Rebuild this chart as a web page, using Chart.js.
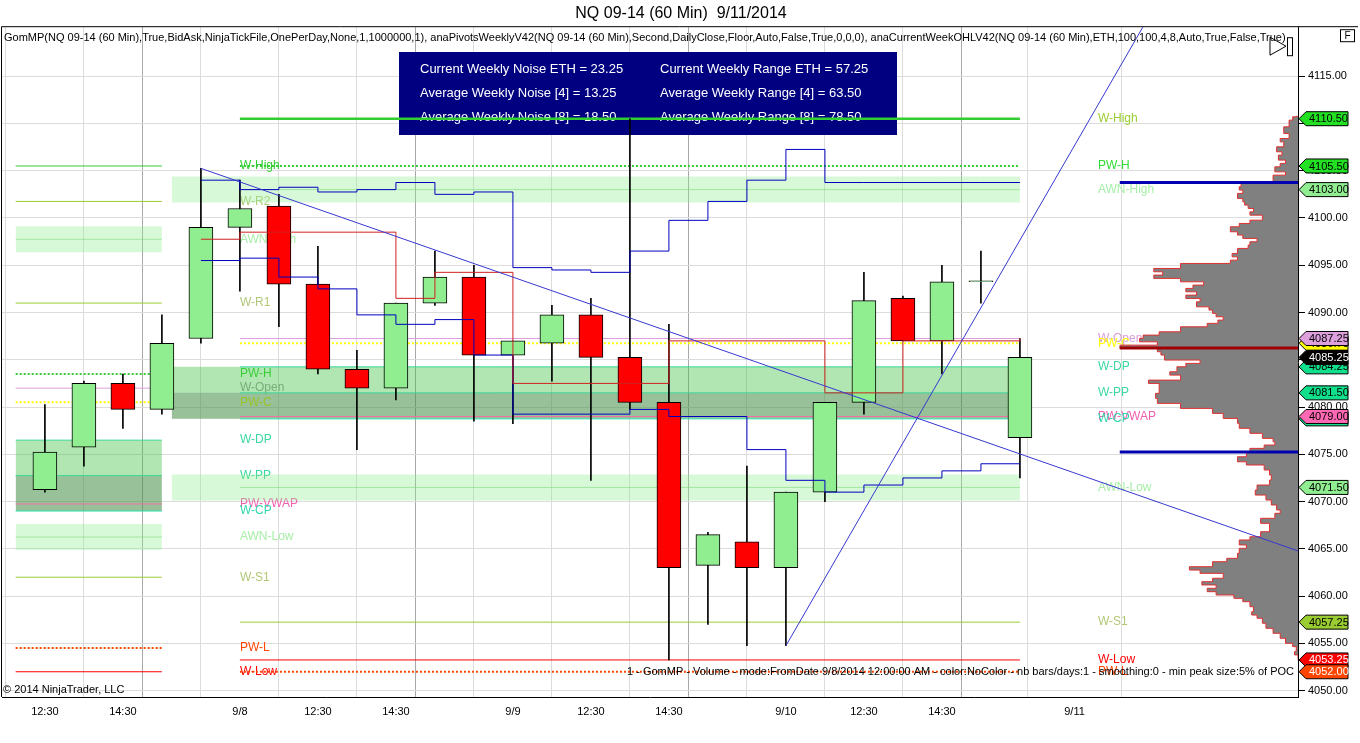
<!DOCTYPE html>
<html>
<head>
<meta charset="utf-8">
<title>NQ 09-14 (60 Min) 9/11/2014</title>
<script src="https://cdn.jsdelivr.net/npm/chart.js@4.4.1/dist/chart.umd.min.js"></script>
<style>
  html, body { margin: 0; padding: 0; background: #fff; }
  #wrap { width: 1360px; height: 743px; }
</style>
</head>
<body>
<div id="wrap"><canvas id="nqChart" width="1360" height="743"></canvas></div>
<script>
const FONT = "'Liberation Sans', Arial, sans-serif";

// 60 min bars, index 0 = 9/5 12:30 ... index 25 = 9/10 last bar
const opens  = [4071.25, 4075.75, 4082.5, 4079.75, 4087.25, 4099.0, 4101.25, 4093.0, 4084.0, 4082.0, 4091.0, 4093.75, 4085.5,
                4086.75, 4089.75, 4085.25, 4080.5, 4063.25, 4065.75, 4063.0, 4071.0, 4080.5, 4091.5, 4087.0, 4093.25, 4076.75];
const highs  = [4080.25, 4082.75, 4083.5, 4089.75, 4105.25, 4104.0, 4102.5, 4097.0, 4086.0, 4091.0, 4096.5, 4095.0, 4087.0,
                4090.75, 4091.5, 4110.5, 4088.75, 4066.75, 4073.75, 4071.0, 4080.5, 4094.25, 4091.75, 4095.0, 4096.5, 4087.25];
const lows   = [4071.0, 4073.75, 4077.75, 4079.25, 4086.75, 4092.25, 4088.5, 4083.5, 4075.5, 4080.75, 4090.75, 4078.5, 4078.25,
                4082.75, 4072.25, 4079.75, 4053.25, 4057.0, 4054.75, 4054.75, 4070.0, 4079.25, 4087.0, 4083.5, 4091.0, 4072.5];
const closes = [4075.25, 4082.5, 4079.75, 4086.75, 4099.0, 4101.0, 4093.0, 4084.0, 4082.0, 4091.0, 4093.75, 4085.5, 4087.0,
                4089.75, 4085.25, 4080.5, 4063.0, 4066.5, 4063.0, 4071.0, 4080.5, 4091.25, 4087.0, 4093.25, 4093.25, 4085.25];

// x axis ticks (bar index) - empty label = session break line
const xTickPos    = [0, 2, 3, 5, 7, 9, 10, 12, 14, 16, 17, 19, 21, 23, 24, 26.4];
const xTickLabels = ['12:30', '14:30', '', '9/8', '12:30', '14:30', '', '9/9', '12:30', '14:30', '', '9/10', '12:30', '14:30', '', '9/11'];
const yTicks = [4050, 4055, 4060, 4065, 4070, 4075, 4080, 4085, 4090, 4095, 4100, 4105, 4110, 4115];

// weekly pivot levels
const levelNames     = ['W-High', 'W-R2', 'AWN-High', 'W-R1', 'PW-H', 'W-Open', 'PW-C', 'W-DP', 'W-PP', 'PW-VWAP', 'W-CP', 'AWN-Low', 'W-S1', 'PW-L', 'W-Low'];
const prevWeekLevels = [4105.5, 4101.75, 4097.75, 4091.0, 4083.5, 4082.0, 4080.5, 4076.5, 4072.75, 4069.75, 4069.0, 4066.25, 4062.0, 4054.5, 4052.0];
const currWeekLevels = [4110.5, null, 4103.0, null, 4105.5, 4087.25, 4086.75, 4084.25, 4081.5, 4079.0, 4078.75, 4071.5, 4057.25, 4052.0, 4053.25];
const awnHalfBand = 1.375;

// anaCurrentWeekOHL step lines, bar 4 .. bar 25
const stepStart  = 4;
const noiseUpper = [4104.0, 4103.0, 4103.25, 4102.75, 4103.0, 4103.75, 4102.5, 4102.75, 4094.75, 4094.5, 4094.25,
                    4096.5, 4099.75, 4101.75, 4104.0, 4107.25, 4103.75, 4103.75, 4103.75, 4103.75, 4103.75, 4103.75];
const noiseLower = [4095.5, 4095.75, 4093.75, 4092.5, 4089.75, 4088.75, 4089.25, 4085.5, 4079.25, 4079.25, 4079.25,
                    4079.75, 4079.0, 4079.0, 4075.5, 4072.25, 4071.0, 4071.75, 4072.5, 4073.25, 4074.0, 4074.0];
const weekMid    = [4097.75, 4098.5, 4098.5, 4098.5, 4098.5, 4091.5, 4094.25, 4094.25, 4082.5, 4082.5, 4082.5,
                    4082.5, 4087.0, 4087.0, 4087.0, 4087.0, 4081.5, 4081.5, 4087.0, 4087.0, 4087.0, 4087.25];

// drawn trend lines
const trendDown = [{ x: 4, y: 4105.25 }, { x: 32.5, y: 4064.25 }];
const trendUp   = [{ x: 19, y: 4054.75 }, { x: 28.3, y: 4121.25 }];

// GomMP volume profile (volume as % of POC)
const profilePrices = [4110.75, 4110.7, 4110.35, 4109.64, 4108.94, 4108.41, 4108.05, 4107.53, 4107.0, 4106.65, 4106.12, 4105.77,
  4105.41, 4104.88, 4104.53, 4104.0, 4103.65, 4103.3, 4102.95, 4102.6, 4102.07, 4101.71, 4101.36, 4101.01, 4100.65, 4100.3,
  4099.77, 4099.42, 4099.07, 4098.54, 4098.19, 4097.84, 4097.48, 4097.13, 4096.78, 4096.25, 4095.89, 4095.54, 4095.19,
  4094.66, 4094.31, 4093.96, 4093.61, 4093.25, 4092.9, 4092.55, 4092.19, 4091.84, 4091.49, 4091.13, 4090.6, 4090.26,
  4089.91, 4089.55, 4089.2, 4088.85, 4088.49, 4087.96, 4087.61, 4087.26, 4086.9, 4086.55, 4086.2, 4085.85, 4085.5,
  4084.97, 4084.62, 4084.26, 4083.73, 4083.38, 4082.85, 4082.5, 4081.98, 4081.45, 4080.92, 4080.39, 4079.86, 4079.33,
  4078.8, 4078.28, 4077.75, 4077.22, 4076.69, 4076.33, 4075.98, 4075.63, 4075.27, 4074.74, 4074.21, 4073.87, 4073.34,
  4072.81, 4072.28, 4071.75, 4071.22, 4070.69, 4070.17, 4069.64, 4069.11, 4068.76, 4068.23, 4067.7, 4067.17, 4066.81,
  4066.28, 4065.94, 4065.41, 4065.06, 4064.53, 4064.0, 4063.64, 4063.11, 4062.76, 4062.41, 4061.89, 4061.53, 4061.18,
  4060.83, 4060.47, 4060.12, 4059.77, 4059.41, 4058.88, 4058.35, 4058.0, 4057.66, 4057.13, 4056.6, 4056.07, 4055.54,
  4055.01, 4054.66, 4054.13, 4053.78, 4053.43, 4053.25];
const profileVolume = [0, 1, 3, 5, 8, 5, 10, 8, 12, 9, 11, 7,
  10, 13, 7, 14, 14, 32, 33, 31, 34, 31, 30, 28, 25, 27,
  20, 27, 33, 38, 34, 31, 23, 27, 28, 34, 37, 34, 38,
  66, 81, 76, 81, 66, 53, 59, 63, 57, 63, 55, 57, 50,
  48, 46, 42, 45, 51, 66, 78, 87, 89, 79, 100, 79, 77,
  75, 55, 63, 68, 72, 66, 84, 78, 78, 80, 79, 66, 48,
  42, 34, 33, 27, 20, 14, 13, 19, 27, 29, 34, 29, 19,
  16, 15, 16, 23, 24, 18, 15, 12, 10, 13, 21, 16, 16,
  21, 27, 33, 29, 33, 34, 40, 48, 61, 55, 42, 48, 54,
  46, 51, 46, 36, 31, 27, 25, 26, 23, 20, 18, 14, 10,
  7, 3, 1, 2, 0, 0];
const profilePOC = 4086.25;
const profileVAH = 4103.75;
const profileVAL = 4075.25;

const noiseStats = ['Current Weekly Noise ETH = 23.25', 'Average Weekly Noise [4] = 13.25', 'Average Weekly Noise [8] = 18.50'];
const rangeStats = ['Current Weekly Range ETH = 57.25', 'Average Weekly Range [4] = 63.50', 'Average Weekly Range [8] = 78.50'];

// styles per level
const levelStyle = {
  'W-High':   { line: '#32cd32', text: '#32cd32', textR: '#9acd32', flag: '#22e022' },
  'W-R2':     { line: '#9acd32', text: '#b2c878' },
  'AWN-High': { line: 'rgba(120,220,120,0.6)', text: '#a8eea8', flag: '#90ee90' },
  'W-R1':     { line: '#9acd32', text: '#b2c878' },
  'PW-H':     { line: '#32cd32', text: '#33dd33', flag: '#22e022', dash: [2, 2], width: 2 },
  'W-Open':   { line: '#dda0dd', text: '#a0a0a0', textR: '#d8a0d8', flag: '#dda0dd' },
  'PW-C':     { line: '#ffff00', text: '#ffff00', flag: '#ffff00', dash: [2, 2], width: 2 },
  'W-DP':     { line: '#3cd89a', text: '#3cd8a0', flag: '#10e08c' },
  'W-PP':     { line: '#3cd89a', text: '#3cd8a0', flag: '#10e08c' },
  'PW-VWAP':  { line: '#f070a8', text: '#f060b0', flag: '#ff69b4' },
  'W-CP':     { line: '#30e0b0', text: '#30d8b0', flag: '#10e08c' },
  'AWN-Low':  { line: 'rgba(120,220,120,0.6)', text: '#a8eea8', flag: '#90ee90' },
  'W-S1':     { line: '#9acd32', text: '#b2c878', flag: '#9acd32' },
  'PW-L':     { line: '#ff4500', text: '#ff4500', flag: '#ff4500', fg: '#fff', dash: [2, 2], width: 2 },
  'W-Low':    { line: '#ff0000', text: '#ff0000', flag: '#ff0000', fg: '#fff' }
};
const flagOrder = ['W-High', 'PW-H', 'AWN-High', 'PW-C', 'W-Open', 'W-CP', 'PW-VWAP', 'W-DP', 'W-PP', 'AWN-Low', 'W-S1', 'W-Low', 'PW-L'];

const prevSpan = [-0.75, 3];
const currSpan = [5, 25];
const currZoneSpan = [3.25, 25];
const profileLineSpan = [27.56, 32.13];

function hline(x0, x1, v, color, width, dash, order) {
  return {
    type: 'line', data: [{ x: x0, y: v }, { x: x1, y: v }],
    borderColor: color, borderWidth: width || 1, borderDash: dash || [],
    fill: false, pointRadius: 0, order, xAxisID: 'x', yAxisID: 'y'
  };
}
function zone(x0, x1, top, bottom, color, order) {
  return {
    type: 'line', data: [{ x: x0, y: top }, { x: x1, y: top }],
    borderColor: 'transparent', borderWidth: 0, fill: { value: bottom }, backgroundColor: color,
    pointRadius: 0, order, xAxisID: 'x', yAxisID: 'y'
  };
}
function steps(values, color) {
  return {
    type: 'line', data: values.map((v, k) => ({ x: stepStart + k, y: v })),
    borderColor: color, borderWidth: 1, stepped: 'before', fill: false, pointRadius: 0, order: 20,
    xAxisID: 'x', yAxisID: 'y'
  };
}

const datasets = [];
const idx = (name) => levelNames.indexOf(name);

// zones (bottom layer)
[[prevWeekLevels, prevSpan], [currWeekLevels, currZoneSpan]].forEach(([lv, span]) => {
  datasets.push(zone(span[0], span[1], lv[idx('W-DP')], lv[idx('W-CP')], 'rgba(60,190,60,0.4)', 91));
  datasets.push(zone(span[0], span[1], lv[idx('W-PP')], lv[idx('W-CP')], 'rgba(90,100,90,0.28)', 90));
  ['AWN-High', 'AWN-Low'].forEach(n => {
    const v = lv[idx(n)];
    datasets.push(zone(span[0], span[1], v + awnHalfBand, v - awnHalfBand, 'rgba(144,238,144,0.35)', 92));
  });
});

// level lines
levelNames.forEach((n, k) => {
  const s = levelStyle[n];
  datasets.push(hline(prevSpan[0], prevSpan[1], prevWeekLevels[k], s.line, n === 'W-High' ? 1 : s.width, s.dash, 60));
  if (currWeekLevels[k] !== null) {
    datasets.push(hline(currSpan[0], currSpan[1], currWeekLevels[k], s.line, n === 'W-High' ? 2.5 : s.width, s.dash, 59));
  }
});

// volume profile, drawn horizontally from the price axis
datasets.push({
  type: 'line', indexAxis: 'y', xAxisID: 'xv', yAxisID: 'y',
  data: profilePrices.map((p, k) => ({ x: profileVolume[k], y: p })),
  stepped: 'before', borderColor: '#e03030', borderWidth: 1,
  backgroundColor: '#808080', fill: { value: 0 }, pointRadius: 0, order: 50
});
datasets.push(hline(profileLineSpan[0], profileLineSpan[1], profileVAH, '#0000b0', 3, [], 48));
datasets.push(hline(profileLineSpan[0], profileLineSpan[1], profilePOC, '#a00000', 3, [], 48));
datasets.push(hline(profileLineSpan[0], profileLineSpan[1], profileVAL, '#0000b0', 3, [], 48));

// candles
const bars = opens.map((_, i) => i);
datasets.push({
  type: 'bar', data: bars.map(i => ({ x: i, y: [lows[i], highs[i]] })),
  backgroundColor: '#000', borderWidth: 0, barThickness: 1, grouped: false, order: 40,
  xAxisID: 'x', yAxisID: 'y'
});
datasets.push({
  type: 'bar', data: bars.map(i => ({ x: i, y: [opens[i], closes[i]] })),
  backgroundColor: bars.map(i => closes[i] >= opens[i] ? '#90ee90' : '#ff0000'),
  borderColor: '#000', borderWidth: 1, borderSkipped: false, barThickness: 24, minBarLength: 1,
  grouped: false, order: 35, xAxisID: 'x', yAxisID: 'y'
});

// step lines and trend lines on top
datasets.push(steps(weekMid, '#d02020'));
datasets.push(steps(noiseUpper, '#0000c0'));
datasets.push(steps(noiseLower, '#0000c0'));
datasets.push({ type: 'line', data: trendDown, borderColor: '#3838d0', borderWidth: 1, pointRadius: 0, fill: false, order: 10, xAxisID: 'x', yAxisID: 'y' });
datasets.push({ type: 'line', data: trendUp, borderColor: '#3838d0', borderWidth: 1, pointRadius: 0, fill: false, order: 10, xAxisID: 'x', yAxisID: 'y' });

function drawFlag(ctx, left, py, bg, fg, text) {
  const h = 7;
  ctx.beginPath();
  ctx.moveTo(left + 1, py);
  ctx.lineTo(left + 8, py - h);
  ctx.lineTo(left + 50, py - h);
  ctx.lineTo(left + 50, py + h);
  ctx.lineTo(left + 8, py + h);
  ctx.closePath();
  ctx.fillStyle = bg;
  ctx.fill();
  ctx.strokeStyle = '#000';
  ctx.lineWidth = 1;
  ctx.stroke();
  ctx.fillStyle = fg;
  ctx.fillText(text, left + 11, py + 0.5);
}

const overlay = {
  id: 'overlay',
  beforeDatasetsDraw(chart) {
    const { ctx, scales: { x, y } } = chart;
    ctx.save();
    // noise / range info box
    ctx.fillStyle = '#000080';
    ctx.fillRect(399, 52, 498, 83);
    ctx.fillStyle = '#fff';
    ctx.font = '13px ' + FONT;
    ctx.textBaseline = 'middle';
    noiseStats.forEach((t, k) => ctx.fillText(t, 420, 69 + 24 * k));
    rangeStats.forEach((t, k) => ctx.fillText(t, 660, 69 + 24 * k));

    // level labels
    ctx.font = '12px ' + FONT;
    const lx = x.getPixelForValue(5);
    const rx = x.getPixelForValue(27);
    levelNames.forEach((n, k) => {
      const s = levelStyle[n];
      ctx.fillStyle = s.text;
      ctx.fillText(n, lx, y.getPixelForValue(prevWeekLevels[k]));
      if (currWeekLevels[k] !== null) {
        ctx.fillStyle = s.textR || s.text;
        ctx.fillText(n, rx, y.getPixelForValue(currWeekLevels[k]));
      }
    });
    ctx.restore();
  },
  afterDatasetsDraw(chart) {
    const { ctx, chartArea: a } = chart;
    ctx.save();
    ctx.beginPath();
    ctx.rect(a.left, a.top, a.right - a.left, a.bottom - a.top);
    ctx.clip();
    ctx.fillStyle = '#000';
    ctx.font = '11px ' + FONT;
    ctx.textBaseline = 'middle';
    ctx.fillText('GomMP(NQ 09-14 (60 Min),True,BidAsk,NinjaTickFile,OnePerDay,None,1,1000000,1), ' +
      'anaPivotsWeeklyV42(NQ 09-14 (60 Min),Second,DailyClose,Floor,Auto,False,True,0,0,0), ' +
      'anaCurrentWeekOHLV42(NQ 09-14 (60 Min),ETH,100,100,4,8,Auto,True,False,True)', a.left + 2, a.top + 11);
    ctx.fillText('\u00a9 2014 NinjaTrader, LLC', a.left + 1, a.bottom - 7);
    ctx.textAlign = 'right';
    ctx.fillText('1 - GomMP - Volume - mode:FromDate 9/8/2014 12:00:00 AM - color:NoColor - nb bars/days:1 - smoothing:0 - min peak size:5% of POC',
      a.right - 4, a.bottom - 25);
    ctx.restore();
  },
  afterDraw(chart) {
    const { ctx, chartArea: a, scales: { y } } = chart;
    ctx.save();
    // frame
    ctx.strokeStyle = '#000';
    ctx.lineWidth = 1;
    ctx.beginPath();
    ctx.moveTo(a.left - 0.5, a.bottom);
    ctx.lineTo(a.left - 0.5, a.top - 0.5);
    ctx.lineTo(chart.width - 2, a.top - 0.5);
    ctx.stroke();
    // play icon + F box
    ctx.beginPath();
    ctx.moveTo(a.right - 28, a.top + 10);
    ctx.lineTo(a.right - 12, a.top + 19);
    ctx.lineTo(a.right - 28, a.top + 28);
    ctx.closePath();
    ctx.stroke();
    ctx.strokeRect(a.right - 10.5, a.top + 10.5, 5, 18);
    ctx.strokeRect(a.right + 42.5, a.top + 2.5, 14, 12);
    ctx.fillStyle = '#000';
    ctx.font = '10px ' + FONT;
    ctx.textAlign = 'center';
    ctx.textBaseline = 'middle';
    ctx.fillText('F', a.right + 49.5, a.top + 9);

    // price flags on the axis
    ctx.font = '11px ' + FONT;
    ctx.textAlign = 'left';
    flagOrder.forEach(n => {
      const s = levelStyle[n];
      const v = currWeekLevels[idx(n)];
      drawFlag(ctx, a.right, y.getPixelForValue(v), s.flag, s.fg || '#000', v.toFixed(2));
    });
    const last = closes[closes.length - 1];
    drawFlag(ctx, a.right, y.getPixelForValue(last), '#000', '#fff', last.toFixed(2));
    ctx.restore();
  }
};

Chart.defaults.font.family = FONT;
Chart.defaults.font.size = 11;
Chart.defaults.color = '#000';

new Chart(document.getElementById('nqChart'), {
  type: 'bar',
  data: { datasets },
  plugins: [overlay],
  options: {
    responsive: false,
    animation: false,
    devicePixelRatio: 1,
    layout: { padding: { left: 2 } },
    plugins: {
      legend: { display: false },
      tooltip: { enabled: false },
      title: {
        display: true, text: 'NQ 09-14 (60 Min)  9/11/2014', color: '#000',
        font: { size: 16, weight: 'normal', family: FONT }, padding: { top: 4, bottom: 4 }
      }
    },
    scales: {
      x: {
        type: 'linear', min: -1.1, max: 32.13, offset: false,
        afterBuildTicks: s => { s.ticks = xTickPos.map(v => ({ value: v })); },
        afterFit: s => { s.height = 46; },
        ticks: { autoSkip: false, maxRotation: 0, padding: 8, callback: (v, i) => xTickLabels[i] },
        grid: { color: c => (xTickLabels[c.index] === '' ? '#a8a8a8' : '#dcdcdc'), drawTicks: false },
        border: { color: '#000' }
      },
      xv: { type: 'linear', axis: 'x', display: false, offset: false, min: 0, max: 728, reverse: true },
      y: {
        type: 'linear', position: 'right', min: 4049.33, max: 4120.18,
        afterBuildTicks: s => { s.ticks = yTicks.map(v => ({ value: v })); },
        afterFit: s => { s.width = 62; },
        ticks: { padding: 3, callback: v => Number(v).toFixed(2) },
        grid: { color: '#dcdcdc', tickColor: '#000', tickLength: 7 },
        border: { color: '#000' }
      }
    }
  }
});
</script>
</body>
</html>
